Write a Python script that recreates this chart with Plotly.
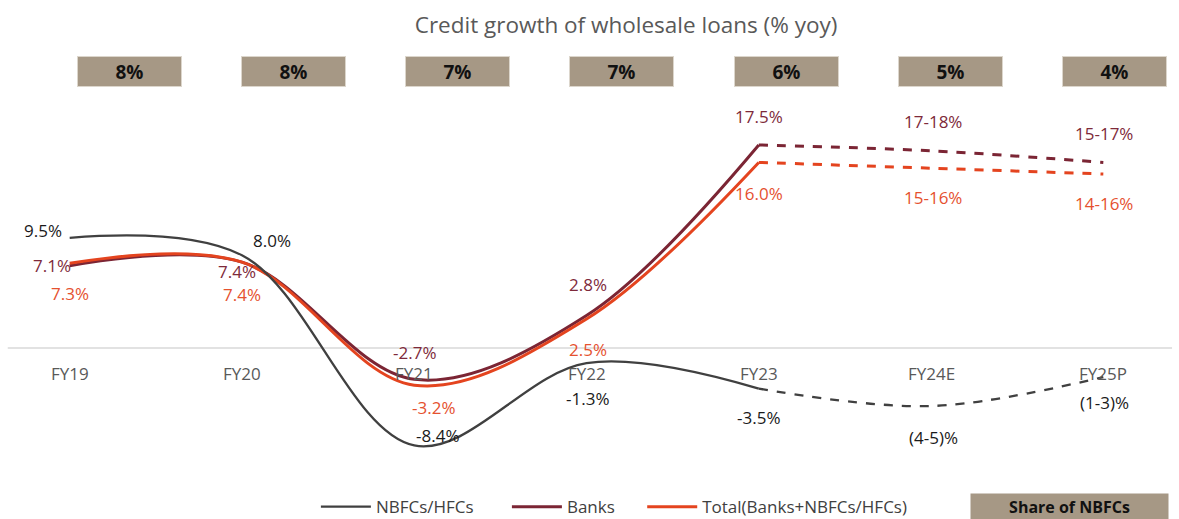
import plotly.graph_objects as go

# data
years = ["FY19", "FY20", "FY21", "FY22", "FY23", "FY24E", "FY25P"]
nbfc = [9.5, 8.0, -8.4, -1.3, -3.5, -5.0, -2.5]
banks = [7.1, 7.4, -2.7, 2.8, 17.5, 17.0, 16.0]
total = [7.3, 7.4, -3.2, 2.5, 16.0, 15.5, 15.0]
nbfc_labels = ["9.5%", "8.0%", "-8.4%", "-1.3%", "-3.5%", "(4-5)%", "(1-3)%"]
banks_labels = ["7.1%", "7.4%", "-2.7%", "2.8%", "17.5%", "17-18%", "15-17%"]
total_labels = ["7.3%", "7.4%", "-3.2%", "2.5%", "16.0%", "15-16%", "14-16%"]
nbfc_share = ["8%", "8%", "7%", "7%", "6%", "5%", "4%"]

C_NBFC = "#404040"
C_BANK = "#7B2534"
C_TOTAL = "#E4441F"
FONT = "Open Sans"

xi = list(range(len(years)))
LAST = 4  # last actual year (FY23), later years are estimates

fig = go.Figure()


def add_series(y, name, color, width, legend):
    fig.add_trace(go.Scatter(
        x=xi[:LAST + 1], y=y[:LAST + 1], mode="lines", name=name, legend=legend,
        line=dict(color=color, width=width, shape="spline", smoothing=1)))
    fig.add_trace(go.Scatter(
        x=xi[LAST:], y=y[LAST:], mode="lines", showlegend=False,
        line=dict(color=color, width=width, dash="dash", shape="spline", smoothing=1),
        hoverinfo="skip"))


add_series(banks, "Banks", C_BANK, 3, "legend2")
add_series(total, "Total(Banks+NBFCs/HFCs)", C_TOTAL, 3, "legend3")
add_series(nbfc, "NBFCs/HFCs", C_NBFC, 2.3, "legend")

annotations = []

# point labels (offsets in px)
nbfc_off = [(-27, 7), (30, 15), (23, 10), (1, -35), (0, -29), (2, -31), (1, -25)]
banks_off = [(-18, 0), (-5, -9), (0, 27), (1, 31), (0, 28), (2, 29), (1, 29)]
total_off = [(0, -30), (0, -32), (19, -22), (1, -30), (0, -31), (2, -29), (1, -29)]

for vals, labs, offs, col in [
    (nbfc, nbfc_labels, nbfc_off, "#1A1A1A"),
    (banks, banks_labels, banks_off, "#7E2A3A"),
    (total, total_labels, total_off, "#E5512F"),
]:
    for i, (v, t, (dx, dy)) in enumerate(zip(vals, labs, offs)):
        annotations.append(dict(
            x=i, y=v, text=t, showarrow=False, xshift=dx, yshift=dy,
            font=dict(family=FONT, size=17, color=col)))

# category labels just below the zero line
for i, yr in enumerate(years):
    annotations.append(dict(
        x=i, y=0, text=yr, showarrow=False, yshift=-25,
        font=dict(family=FONT, size=17, color="#595959")))

# share of NBFCs boxes on top
for i, s in enumerate(nbfc_share):
    annotations.append(dict(
        x=i, xref="x2", y=0.928, yref="paper", yanchor="middle", xanchor="center",
        text="<b>" + s + "</b>",
        showarrow=False, width=103, height=29, borderpad=0,
        bgcolor="#A69885", bordercolor="#DCD6CC", borderwidth=1,
        font=dict(family=FONT, size=19, color="#111111")))

annotations.append(dict(
    x=0.925, xref="paper", y=-0.063, yref="paper", xanchor="center", yanchor="middle",
    text="<b>Share of NBFCs</b>",
    showarrow=False, width=197, height=26, borderpad=0, bgcolor="#A69885",
    font=dict(family=FONT, size=16, color="#111111")))

leg = dict(orientation="h", xanchor="left", y=-0.064, yanchor="middle",
           font=dict(family=FONT, size=17, color="#404040"),
           bgcolor="rgba(0,0,0,0)", itemwidth=50)

fig.update_layout(
    width=1179, height=519,
    margin=dict(l=18, r=24, t=40, b=40, autoexpand=False),
    paper_bgcolor="white", plot_bgcolor="white",
    title=dict(text="Credit growth of wholesale loans (% yoy)", x=0.531, xanchor="center",
               y=0.952, yanchor="middle", xref="container", yref="container",
               font=dict(family=FONT, size=22.5, color="#595959")),
    xaxis=dict(range=[-0.3, 6.3], visible=False),
    xaxis2=dict(range=[-0.6756, 6.2446], overlaying="x", visible=False),
    yaxis=dict(range=[-11.29, 26.55], visible=False),
    showlegend=True,
    legend=dict(leg, x=0.262),
    legend2=dict(leg, x=0.430),
    legend3=dict(leg, x=0.549),
    shapes=[dict(type="line", xref="paper", x0=-0.009, x1=1.015, yref="y", y0=0, y1=0,
                 line=dict(color="#D9D9D9", width=1.5), layer="below")],
    annotations=annotations,
)

fig.write_html("out.html", config={"displayModeBar": False},
               post_script="document.body.style.margin='0';")
